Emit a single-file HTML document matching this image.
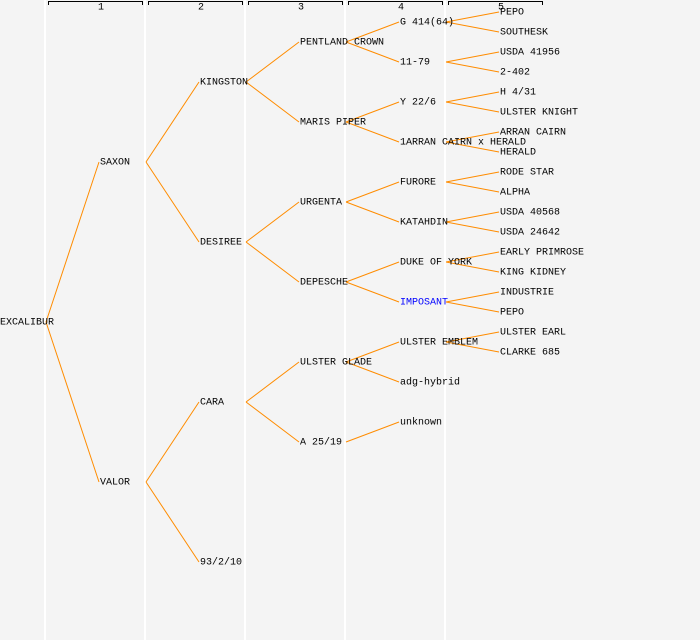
<!DOCTYPE html>
<html><head><style>
html,body{margin:0;padding:0;background:#f4f4f4}
svg{display:block}
text{font-family:"Liberation Mono","DejaVu Sans Mono",monospace;font-size:10px;fill:#000;dominant-baseline:middle}
</style></head><body>
<svg width="700" height="640" xmlns="http://www.w3.org/2000/svg">
<rect width="700" height="640" fill="#f4f4f4"/>
<g stroke="#fff" stroke-width="2">
<line x1="45" y1="0" x2="45" y2="640"/><line x1="145" y1="0" x2="145" y2="640"/><line x1="245" y1="0" x2="245" y2="640"/><line x1="345" y1="0" x2="345" y2="640"/><line x1="445" y1="0" x2="445" y2="640"/>
</g>
<g stroke="#000" fill="none" stroke-width="1">
<path d="M48.5 5V1.5H142.5V5"/><path d="M148.5 5V1.5H242.5V5"/><path d="M248.5 5V1.5H342.5V5"/><path d="M348.5 5V1.5H442.5V5"/><path d="M448.5 5V1.5H542.5V5"/>
</g>
<g style="font-size:8px">
<text x="101" y="7" text-anchor="middle">1</text><text x="201" y="7" text-anchor="middle">2</text><text x="301" y="7" text-anchor="middle">3</text><text x="401" y="7" text-anchor="middle">4</text><text x="501" y="7" text-anchor="middle">5</text>
</g>
<g stroke="#ff8c00" stroke-width="1" fill="none">
<path d="M46 322L99 162M46 322L99 482"/>
<path d="M146 162L199 82M146 162L199 242M146 482L199 402M146 482L199 562"/>
<path d="M246 82L299 42M246 82L299 122M246 242L299 202M246 242L299 282M246 402L299 362M246 402L299 442"/>
<path d="M346 42L399 22M346 42L399 62M346 122L399 102M346 122L399 142M346 202L399 182M346 202L399 222M346 282L399 262M346 282L399 302M346 362L399 342M346 362L399 382M346 442L399 422"/>
<path d="M446 22L499 12M446 22L499 32M446 62L499 52M446 62L499 72M446 102L499 92M446 102L499 112M446 142L499 132M446 142L499 152M446 182L499 172M446 182L499 192M446 222L499 212M446 222L499 232M446 262L499 252M446 262L499 272M446 302L499 292M446 302L499 312M446 342L499 332M446 342L499 352"/>
</g>
<text x="0" y="322">EXCALIBUR</text>
<text x="100" y="162">SAXON</text><text x="100" y="482">VALOR</text>
<text x="200" y="82">KINGSTON</text><text x="200" y="242">DESIREE</text><text x="200" y="402">CARA</text><text x="200" y="562">93/2/10</text>
<text x="300" y="42">PENTLAND CROWN</text><text x="300" y="122">MARIS PIPER</text><text x="300" y="202">URGENTA</text><text x="300" y="282">DEPESCHE</text><text x="300" y="362">ULSTER GLADE</text><text x="300" y="442">A 25/19</text>
<text x="400" y="22">G 414(64)</text><text x="400" y="62">11-79</text><text x="400" y="102">Y 22/6</text><text x="400" y="142">1ARRAN CAIRN x HERALD</text><text x="400" y="182">FURORE</text><text x="400" y="222">KATAHDIN</text><text x="400" y="262">DUKE OF YORK</text><text x="400" y="302" style="fill:#0000ff">IMPOSANT</text><text x="400" y="342">ULSTER EMBLEM</text><text x="400" y="382">adg-hybrid</text><text x="400" y="422">unknown</text>
<text x="500" y="12">PEPO</text><text x="500" y="32">SOUTHESK</text><text x="500" y="52">USDA 41956</text><text x="500" y="72">2-402</text><text x="500" y="92">H 4/31</text><text x="500" y="112">ULSTER KNIGHT</text><text x="500" y="132">ARRAN CAIRN</text><text x="500" y="152">HERALD</text><text x="500" y="172">RODE STAR</text><text x="500" y="192">ALPHA</text><text x="500" y="212">USDA 40568</text><text x="500" y="232">USDA 24642</text><text x="500" y="252">EARLY PRIMROSE</text><text x="500" y="272">KING KIDNEY</text><text x="500" y="292">INDUSTRIE</text><text x="500" y="312">PEPO</text><text x="500" y="332">ULSTER EARL</text><text x="500" y="352">CLARKE 685</text>
</svg>
</body></html>
